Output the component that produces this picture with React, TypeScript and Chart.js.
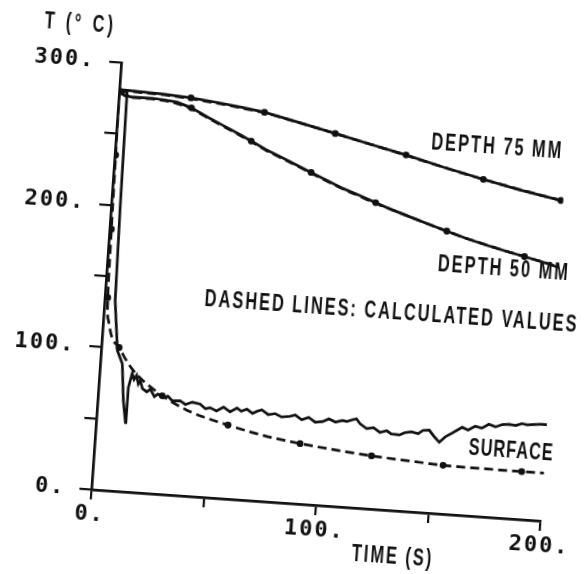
import React, { useEffect, useRef } from 'react';
import { Chart, registerables } from 'chart.js';

Chart.register(...registerables);

// ---------------- data ----------------
const xLabeledTicks = [0, 100, 200];
const yLabeledTicks = [0, 100, 200, 300];

const yAxisTitle = 'T (° C)';
const xAxisTitle = 'TIME (S)';
const labelDepth75 = 'DEPTH 75 MM';
const labelDepth50 = 'DEPTH 50 MM';
const labelNote = 'DASHED LINES: CALCULATED VALUES';
const labelSurface = 'SURFACE';

// depth 75 mm
const depth75Time = [0, 10, 20, 32, 45, 55, 65, 80, 97, 113, 129, 146, 164, 180, 200];
const depth75Measured = [281, 280.5, 280, 278.7, 276.5, 274.5, 272.2, 267, 260.8, 255, 249.3, 242.5, 236, 230.5, 224.7];
const depth75Calc = [281, 280, 279.5, 278, 276, 274, 271.8, 266.8, 260.8, 255, 249, 242.5, 236, 230.8, 224.7];
const depth75MarkTime = [32, 65, 97, 129, 164, 199];
const depth75MarkTemp = [278.7, 272.2, 260.8, 249.3, 236, 225];

// depth 50 mm
const depth50Time = [0, 5, 10, 15, 20, 26, 32.5, 40, 47, 54, 60, 67, 74, 80, 87.5, 95, 102, 110, 117, 125, 133, 141, 149.4, 158, 167, 176, 184.6, 193, 200];
const depth50Measured = [279, 276.5, 276.5, 276.5, 276, 275, 271.7, 266, 261, 256, 251.4, 246, 241.5, 237.4, 232.4, 227.5, 222.8, 218.5, 214.4, 210, 206, 202, 198, 194, 190.3, 187, 184, 181, 178];
const depth50Calc = [279, 276, 276, 276, 275.5, 274, 271, 265.5, 260.5, 255.5, 251, 245.5, 241, 237, 232, 227, 222.5, 218, 214, 210, 206, 202, 198, 194, 190.5, 187, 184, 181, 178.5];
const depth50MarkTime = [32.5, 60, 87.5, 117, 149.4, 184.6];
const depth50MarkTemp = [271.7, 251.4, 232.4, 214.4, 198, 184];

// surface
const surfaceMeasTime = [0, 3.5, 4, 4.7, 6.9, 7.2, 9.8, 11.4, 13, 13.2, 14.5, 15.5, 16.5, 17.5, 18.3, 19.5, 21.5, 23, 25, 26.5, 28.9, 31, 33, 36.6, 39, 42, 45.5, 48, 50, 53, 56, 59, 62, 64, 66.4, 69, 70.9, 73, 76, 79, 82, 85.6, 88, 91, 94, 97, 100.3, 103, 106, 109, 111, 113.5, 115.2, 117, 120, 123, 126, 129, 131, 134.7, 137, 140, 143, 145, 147.8, 150, 152.6, 155, 158, 162.3, 165, 168, 171, 174, 177, 180, 183, 186, 188.6, 191, 194, 197, 199.7];
const surfaceMeasured = [280, 280, 200, 133, 103, 98.4, 89.5, 63.7, 48.4, 73, 83, 79, 82, 76, 78.5, 73, 71, 73, 68, 70, 67.6, 69, 66, 66.3, 64, 66, 65, 62, 63, 61, 64, 61, 64, 62, 63.7, 61, 62.7, 64, 61, 62, 60, 60.8, 62, 59, 61, 58, 58.8, 61, 59, 60.5, 60, 61.5, 62.4, 59, 56, 57, 54, 55.5, 53.5, 53.2, 55, 56, 55, 57.5, 58, 54, 50, 54, 57, 61.6, 60, 63, 62, 65, 63.5, 65.5, 66, 65.5, 67.1, 66.5, 67, 67.5, 67.5];
const surfaceCalcTime = [0, 0.4, 0.8, 1.3, 2.5, 4.5, 7.9, 11, 15, 20, 28.5, 40, 58.5, 75, 91, 107, 123, 140, 155, 175, 190, 200];
const surfaceCalc = [280, 235, 183, 135, 118, 107, 100.6, 93, 85, 78, 69, 60, 51.7, 46, 42.3, 39.5, 37.2, 35.5, 34.1, 33.7, 33.5, 33.5];
const surfaceMarkTime = [0, 0.4, 0.8, 1.3, 7.9, 28.5, 58.5, 91, 123, 155, 190];
const surfaceMarkTemp = [280, 235, 183, 135, 100.6, 69, 51.7, 42.3, 37.2, 34.1, 33.5];

// ---------------- helpers ----------------
const pts = (xs: number[], ys: number[]) => xs.map((x, i) => ({ x, y: ys[i] }));

const SANS = '"Liberation Sans", "DejaVu Sans", sans-serif';
const MONO = '"DejaVu Sans Mono", monospace';
const INK = '#111';
const LINE_W = 2.7;

const solid = (data: any) => ({
  data,
  borderColor: INK,
  borderWidth: LINE_W,
  pointRadius: 0,
  tension: 0,
  fill: false,
});
const dashed = (data: any) => ({
  data,
  borderColor: INK,
  borderWidth: LINE_W,
  borderDash: [9, 5],
  pointRadius: 0,
  cubicInterpolationMode: 'monotone',
  fill: false,
});
const markers = (data: any) => ({
  data,
  showLine: false,
  pointRadius: 3.4,
  pointBackgroundColor: INK,
  pointBorderColor: INK,
  pointBorderWidth: 0,
});

// narrow plotter-like lettering: horizontally condensed, widely spaced
const drawNarrow = (ctx: any, text: string, x: number, y: number, spacing = 3) => {
  ctx.save();
  ctx.letterSpacing = `${spacing}px`;
  ctx.translate(x, y);
  ctx.scale(0.68, 1);
  ctx.fillText(text, spacing / 2, 0);
  ctx.restore();
};

const textPlugin = {
  id: 'plotText',
  beforeDraw(chart: any) {
    chart.ctx.letterSpacing = '2px';
  },
  beforeDatasetsDraw(chart: any) {
    chart.ctx.letterSpacing = '0px';
  },
  afterDraw(chart: any) {
    const { ctx, chartArea, scales } = chart;
    const xs = scales.x;
    const ys = scales.y;
    ctx.save();
    ctx.letterSpacing = '0px';
    ctx.fillStyle = INK;
    ctx.font = `bold 24px ${SANS}`;
    ctx.textAlign = 'center';
    ctx.textBaseline = 'middle';
    drawNarrow(ctx, yAxisTitle, chartArea.left - 45, chartArea.top - 36, 5);
    drawNarrow(ctx, xAxisTitle, xs.getPixelForValue(135), chartArea.bottom + 46);
    drawNarrow(ctx, labelDepth75, xs.getPixelForValue(168.7), ys.getPixelForValue(259));
    drawNarrow(ctx, labelDepth50, xs.getPixelForValue(175.4), ys.getPixelForValue(174.5));
    drawNarrow(ctx, labelNote, xs.getPixelForValue(127), ys.getPixelForValue(138.7));
    drawNarrow(ctx, labelSurface, xs.getPixelForValue(184.5), ys.getPixelForValue(47.3), 1.5);
    ctx.restore();
  },
};

export default function App() {
  const ref = useRef<HTMLCanvasElement | null>(null);

  useEffect(() => {
    if (!ref.current) return;
    const chart = new Chart(ref.current, {
      type: 'line',
      data: {
        datasets: [
          solid(pts(depth75Time, depth75Measured)),
          dashed(pts(depth75Time, depth75Calc)),
          markers(pts(depth75MarkTime, depth75MarkTemp)),
          solid(pts(depth50Time, depth50Measured)),
          dashed(pts(depth50Time, depth50Calc)),
          markers(pts(depth50MarkTime, depth50MarkTemp)),
          solid(pts(surfaceMeasTime, surfaceMeasured)),
          dashed(pts(surfaceCalcTime, surfaceCalc)),
          markers(pts(surfaceMarkTime, surfaceMarkTemp)),
        ] as any,
      },
      options: {
        animation: false,
        responsive: false,
        devicePixelRatio: 1,
        layout: { padding: { top: 75, right: 27, left: 0, bottom: 0 } },
        plugins: { legend: { display: false }, tooltip: { enabled: false } },
        scales: {
          x: {
            type: 'linear',
            min: 0,
            max: 200,
            border: { display: true, color: INK, width: 2.7 },
            grid: { display: true, drawOnChartArea: false, drawTicks: true, tickLength: 10, color: INK, lineWidth: 2.2 },
            ticks: {
              stepSize: 50,
              autoSkip: false,
              maxRotation: 0,
              padding: 2,
              color: INK,
              font: { family: MONO, size: 22, weight: 'bold' },
              callback: (v: any) => (xLabeledTicks.includes(Number(v)) ? `${v}.` : ''),
            },
            afterFit: (s: any) => {
              s.height = 71;
            },
          },
          y: {
            type: 'linear',
            min: 0,
            max: 300,
            border: { display: true, color: INK, width: 2.7 },
            grid: { display: true, drawOnChartArea: false, drawTicks: true, tickLength: 12, color: INK, lineWidth: 2.2 },
            ticks: {
              stepSize: 50,
              autoSkip: false,
              padding: 14,
              color: INK,
              font: { family: MONO, size: 22, weight: 'bold' },
              callback: (v: any) => (yLabeledTicks.includes(Number(v)) ? `${v}.` : ''),
            },
            afterFit: (s: any) => {
              s.width = 106;
            },
          },
        },
      } as any,
      plugins: [textPlugin],
    });
    return () => chart.destroy();
  }, []);

  return (
    <div
      style={{
        position: 'fixed',
        left: 0,
        top: 0,
        width: 585,
        height: 574,
        transform: 'rotate(4deg)',
        transformOrigin: '292.5px 287px',
      }}
    >
      <canvas ref={ref} width={585} height={574} style={{ display: 'block' }} />
    </div>
  );
}
